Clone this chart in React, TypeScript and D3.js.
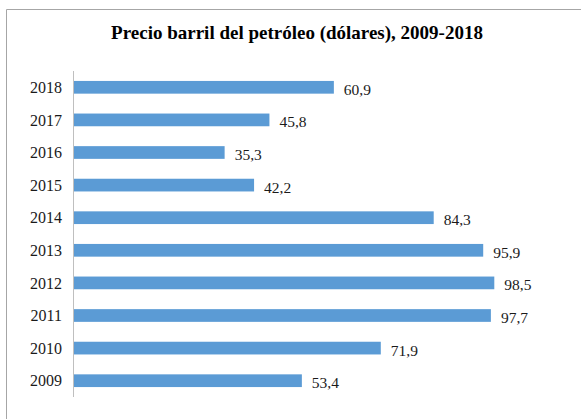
import React, { useEffect, useRef } from "react";
import * as d3 from "d3";

const years = ["2009", "2010", "2011", "2012", "2013", "2014", "2015", "2016", "2017", "2018"];
const prices = [53.4, 71.9, 97.7, 98.5, 95.9, 84.3, 42.2, 35.3, 45.8, 60.9];
const title = "Precio barril del petróleo (dólares), 2009-2018";

export default function App() {
  const ref = useRef<SVGSVGElement>(null);

  useEffect(() => {
    const width = 581;
    const height = 419;
    const font = "Liberation Serif";
    const svg = d3.select(ref.current);
    svg.selectAll("*").remove();

    const data = years.map((y, i) => ({ year: y, value: prices[i] }));

    // frame (only top and left visible in the crop)
    svg.append("path")
      .attr("d", `M6.5,${height} L6.5,9.5 L${width},9.5`)
      .attr("fill", "none")
      .attr("stroke", "#a6a6a6")
      .attr("stroke-width", 1);

    svg.append("text")
      .attr("x", 297)
      .attr("y", 39)
      .attr("text-anchor", "middle")
      .attr("font-family", font)
      .attr("font-size", 19)
      .attr("font-weight", "bold")
      .text(title);

    const x = d3.scaleLinear().domain([0, 100]).range([74, 500.7]);
    const y = d3.scaleBand()
      .domain(years.slice().reverse())
      .range([71, 397])
      .paddingInner(0.61)
      .paddingOuter(0.305);

    svg.append("line")
      .attr("x1", 73.5).attr("x2", 73.5)
      .attr("y1", 71).attr("y2", 397)
      .attr("stroke", "#bfbfbf")
      .attr("stroke-width", 1);

    svg.selectAll(".bar")
      .data(data)
      .enter()
      .append("rect")
      .attr("class", "bar")
      .attr("x", x(0))
      .attr("y", d => y(d.year)!)
      .attr("width", d => x(d.value) - x(0))
      .attr("height", y.bandwidth())
      .attr("fill", "#5b9bd5");

    svg.selectAll(".year")
      .data(data)
      .enter()
      .append("text")
      .attr("class", "year")
      .attr("x", 62)
      .attr("y", d => y(d.year)! + y.bandwidth() / 2)
      .attr("dy", "0.35em")
      .attr("text-anchor", "end")
      .attr("font-family", font)
      .attr("font-size", 16)
      .attr("fill", "#1a1a1a")
      .text(d => d.year);

    svg.selectAll(".lbl")
      .data(data)
      .enter()
      .append("text")
      .attr("class", "lbl")
      .attr("x", d => x(d.value) + 10)
      .attr("y", d => y(d.year)! + y.bandwidth() / 2 + 2)
      .attr("dy", "0.35em")
      .attr("font-family", font)
      .attr("font-size", 15.5)
      .attr("fill", "#1a1a1a")
      .text(d => d.value.toFixed(1).replace(".", ","));
  }, []);

  return (
    <svg
      ref={ref}
      width={581}
      height={419}
      style={{ position: "absolute", left: 0, top: 0, background: "#fff" }}
    />
  );
}
